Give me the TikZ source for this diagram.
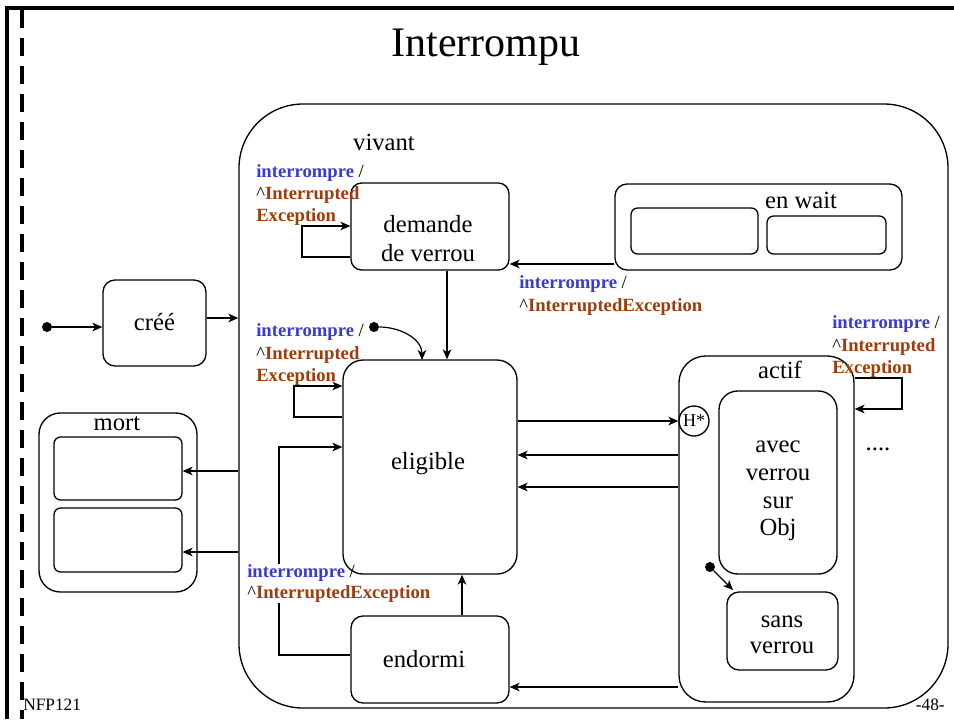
\documentclass[tikz,border=0pt]{standalone}
\usepackage{fontspec}
\setmainfont{Liberation Serif}
\usetikzlibrary{arrows.meta,fit}
\definecolor{iblue}{RGB}{58,58,212}
\definecolor{ibrown}{RGB}{160,60,12}
\newcommand{\trA}{{\color{iblue}\textbf{interrompre}} /}
\newcommand{\trB}{\textasciicircum{\color{ibrown}\textbf{Interrupted}}}
\newcommand{\trC}{{\color{ibrown}\textbf{Exception}}}
\newcommand{\trBC}{\textasciicircum{\color{ibrown}\textbf{InterruptedException}}}
\begin{document}
\begin{tikzpicture}[x=0.75pt,y=-0.75pt,
  box/.style={draw, line width=1pt, inner sep=0pt, rounded corners=#1},
  box/.default=7pt,
  st/.style={font=\fontsize{18.5}{22}\selectfont, inner sep=0pt, anchor=base},
  tr/.style={font=\fontsize{14}{17}\selectfont, inner sep=0pt, anchor=base west},
  arr/.style={line width=0.9pt, -{Stealth[length=7.5pt,width=6.5pt,inset=2.2pt]}},
  dot/.style={circle, fill, inner sep=0pt, minimum size=7.5pt}]
\useasboundingbox (0,0) rectangle (954,719);
% frame
\draw[line width=2.4pt] (7,719) -- (7,8) -- (954,8);
\draw[line width=2.6pt, dash pattern=on 13.5pt off 7.5pt] (22,10) -- (22,719);
\node[font=\fontsize{31.5}{36}\selectfont, anchor=base, inner sep=0pt] (title) at (486,56) {Interrompu};
% vivant
\node[box=48pt, fit={(239,104) (948,708)}] (vivant) {};
\node[st] (vivantl) at (384,150) {vivant};
% cree
\node[box=9pt, fit={(103,280) (206,366)}] (cree) {};
\node[st] (creel) at (154.5,330) {créé};
\node[dot] (i0) at (47,327) {};
\draw[arr] (i0) -- (cree.west |- i0);
\coordinate (y318) at (0,318);
\draw[arr] (cree.east |- y318) -- (vivant.west |- y318);
% mort
\node[box=16pt, fit={(39,413) (197,592)}] (mort) {};
\node[st] (mortl) at (117,430) {mort};
\node[box=5pt, fit={(54,437) (182,500)}] (m1) {};
\node[box=5pt, fit={(54,508) (182,572)}] (m2) {};
\coordinate (y471) at (0,471);
\coordinate (y552) at (0,552);
\draw[arr] (vivant.west |- y471) -- (m1.east |- y471);
\draw[arr] (vivant.west |- y552) -- (m2.east |- y552);
% demande de verrou
\node[box=8pt, fit={(351,183) (509,270)}] (dem) {};
\node[st] (deml1) at (428,232) {demande};
\node[st] (deml2) at (428,261) {de verrou};
\coordinate (lp1a) at (302,257);
\coordinate (lp1b) at (302,226);
\draw[arr] (dem.west |- lp1a) -- (lp1a) -- (lp1b) -- (dem.west |- lp1b);
\node[tr] (l1a) at (256,177) {\trA};
\node[tr] (l1b) at (256,199) {\trB};
\node[tr] (l1c) at (256,221) {\trC};
% en wait
\node[box=9pt, fit={(615,184) (902,270)}] (enwait) {};
\node[box=5pt, fit={(631,208) (758,254)}] (w1) {};
\node[box=5pt, fit={(767,216) (886,254)}] (w2) {};
\node[st] (enwaitl) at (801,208) {en wait};
\coordinate (y264) at (0,264);
\draw[arr] (enwait.west |- y264) -- (dem.east |- y264);
\node[tr] (l2a) at (519,288) {\trA};
\node[tr] (l2b) at (519,311) {\trBC};
% eligible
\node[box=15pt, fit={(343,360) (517,574)}] (elig) {};
\node[st] (eligl) at (428,469) {eligible};
\coordinate (x447) at (447,0);
\draw[arr] (dem.south -| x447) -- (elig.north -| x447);
\coordinate (lp3a) at (294,417);
\coordinate (lp3b) at (294,386);
\draw[arr] (elig.west |- lp3a) -- (lp3a) -- (lp3b) -- (elig.west |- lp3b);
\node[tr] (l3a) at (256,336) {\trA};
\node[tr] (l3b) at (256,359) {\trB};
\node[tr] (l3c) at (256,381) {\trC};
\node[dot] (d3) at (374,327) {};
\coordinate (e3) at (422,360);
\draw[arr] (d3) to[out=0,in=90] (e3);
% actif
\node[box=20pt, fit={(679,356) (854,702)}] (actif) {};
\node[st] (actifl) at (780,378) {actif};
\node[circle, draw, fill=white, line width=1pt, minimum size=22.5pt, inner sep=0pt,
      font=\fontsize{13.5}{14}\selectfont] (hist) at (694,421) {H*};
\draw[arr] (elig.east |- hist.west) -- (hist.west);
\coordinate (y455) at (0,455);
\coordinate (y487) at (0,487);
\draw[arr] (actif.west |- y455) -- (elig.east |- y455);
\draw[arr] (actif.west |- y487) -- (elig.east |- y487);
\coordinate (lp4a) at (902,378);
\coordinate (lp4b) at (902,409);
\draw[arr] (actif.east |- lp4a) -- (lp4a) -- (lp4b) -- (actif.east |- lp4b);
\node[tr] (l4a) at (832,328) {\trA};
\node[tr] (l4b) at (832,351) {\trB};
\node[tr] (l4c) at (832,373) {\trC};
\node[st] (dots) at (878,450) {....};
% avec verrou sur Obj
\node[box=14pt, fit={(719,391) (837,574)}] (avec) {};
\node[st] (avec1) at (778,452) {avec};
\node[st] (avec2) at (778,480) {verrou};
\node[st] (avec3) at (778,508) {sur};
\node[st] (avec4) at (778,535) {Obj};
% sans verrou
\node[box=9pt, fit={(727,592) (838,670)}] (sans) {};
\node[st] (sans1) at (782,627) {sans};
\node[st] (sans2) at (782,653) {verrou};
\node[dot] (d4) at (710,567) {};
\coordinate (e4) at (733,590);
\draw[arr] (d4) -- (e4);
% endormi
\node[box=9pt, fit={(351,616) (509,703)}] (endo) {};
\node[st] (endol) at (424,667) {endormi};
\coordinate (x462) at (462,0);
\draw[arr] (endo.north -| x462) -- (elig.south -| x462);
\coordinate (lp5a) at (279,655);
\coordinate (lp5b) at (279,447);
\draw[arr] (endo.west |- lp5a) -- (lp5a) -- (lp5b) -- (elig.west |- lp5b);
\coordinate (y687) at (0,687);
\draw[arr] (actif.west |- y687) -- (endo.east |- y687);
\fill[white] (274,564) rectangle (284,603);
\node[tr] (l5a) at (247,577) {\trA};
\node[tr] (l5b) at (247,598) {\trBC};
% footer
\node[font=\fontsize{13}{15}\selectfont, anchor=base west, inner sep=0pt] (nfp) at (23,710) {NFP121};
\node[font=\fontsize{13}{15}\selectfont, anchor=base east, inner sep=0pt] (page) at (945,710) {-48-};
\end{tikzpicture}
\end{document}
